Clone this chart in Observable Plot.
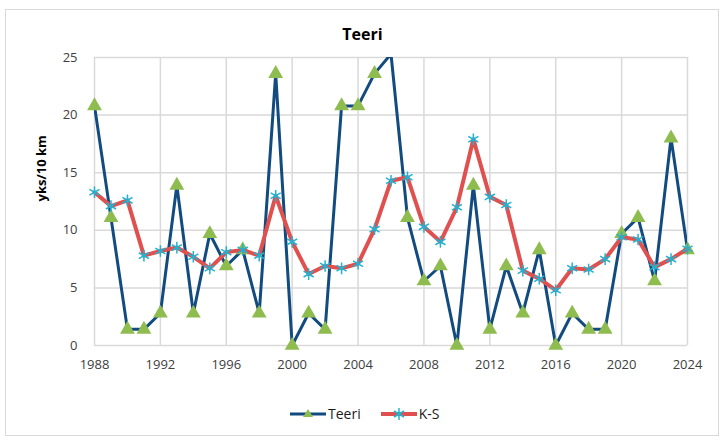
<!DOCTYPE html>
<html>
<head>
<meta charset="utf-8">
<script src="https://cdn.jsdelivr.net/npm/d3@7"></script>
<script src="https://cdn.jsdelivr.net/npm/@observablehq/plot@0.6"></script>
<style>
  body { margin: 0; background: #fff; font-family: "Open Sans", "Liberation Sans", sans-serif; }
  #wrap { position: relative; width: 725px; height: 440px; }
  #border { position: absolute; left: 5px; top: 9px; width: 714px; height: 427px; border: 1px solid #d9d9d9; box-sizing: border-box; }
  #title { position: absolute; left: 0; width: 725px; top: 23px; text-align: center; font-weight: bold; font-size: 16px; color: #000; }
  #legend { position: absolute; top: 404px; left: 290px; display: flex; align-items: center; font-size: 14px; color: #1a1a1a; }
  #legend .item { display: flex; align-items: center; margin-right: 20px; }
  #legend svg { margin-right: 2px; }
</style>
</head>
<body>
<div id="wrap">
  <div id="border"></div>
  <div id="chart"></div>
  <div id="title">Teeri</div>
  <div id="legend"></div>
</div>
<script>
const years = d3.range(1988, 2025);
const teeri = [20.8, 11.1, 1.4, 1.4, 2.8, 13.9, 2.8, 9.7, 6.9, 8.3, 2.8, 23.6, 0, 2.8, 1.4, 20.8, 20.8, 23.6, 25.3, 11.1, 5.6, 6.9, 0, 13.9, 1.4, 6.9, 2.8, 8.3, 0, 2.8, 1.4, 1.4, 9.7, 11.1, 5.6, 18.0, 8.3];
const ks = [13.3, 12.1, 12.6, 7.8, 8.2, 8.5, 7.7, 6.7, 8.1, 8.3, 7.8, 13.0, 9.0, 6.2, 6.9, 6.7, 7.1, 10.1, 14.3, 14.6, 10.3, 9.0, 12.0, 17.9, 12.9, 12.2, 6.5, 5.8, 4.8, 6.7, 6.6, 7.5, 9.4, 9.2, 6.8, 7.5, 8.4];
const xTicks = d3.range(1988, 2025, 4);
const yTicks = [0, 5, 10, 15, 20, 25];
const seriesNames = ["Teeri", "K-S"];

const teeriData = years.map((y, i) => ({year: y, value: teeri[i]}));
const ksData = years.map((y, i) => ({year: y, value: ks[i]}));
const yMax = 25;

const cTeeri = "#114b7f";
const cTri = "#8fbc4f";
const cKS = "#e0504f";
const cStar = "#1fb3d3";
const grid = "#d9d9d9";

const chart = Plot.plot({
  width: 725,
  height: 440,
  marginLeft: 94,
  marginRight: 38,
  marginTop: 57,
  marginBottom: 95,
  style: {fontFamily: "'Open Sans', 'Liberation Sans', sans-serif", fontSize: "13px", color: "#404040", background: "transparent"},
  x: {domain: [1988, 2024], ticks: xTicks, tickFormat: d => String(d), tickSize: 0, tickPadding: 14, label: null},
  y: {domain: [0, yMax], ticks: yTicks, tickSize: 0, tickPadding: 17, label: null},
  marks: [
    Plot.gridY(yTicks, {stroke: grid, strokeOpacity: 1, strokeWidth: 1.5}),
    Plot.gridX(xTicks, {stroke: grid, strokeOpacity: 1, strokeWidth: 1.5}),
    Plot.axisX({ticks: xTicks, tickFormat: d => String(d), tickSize: 0, tickPadding: 14, label: null, fontSize: 13, fill: "#404040"}),
    Plot.axisY({ticks: yTicks, tickSize: 0, tickPadding: 17, label: null, fontSize: 13, fill: "#404040"}),
    Plot.text(["yks/10 km"], {frameAnchor: "left", rotate: -90, dx: -53, fontWeight: "bold", fontSize: 13, fill: "#000"}),
    Plot.line(teeriData, {x: "year", y: "value", stroke: cTeeri, strokeWidth: 3, clip: true}),
    Plot.dot(teeriData.filter(d => d.value <= yMax), {x: "year", y: "value", symbol: "triangle", fill: cTri, r: 5.5, stroke: null}),
    Plot.line(ksData, {x: "year", y: "value", stroke: cKS, strokeWidth: 4}),
    Plot.dot(ksData, {x: "year", y: "value", symbol: "asterisk", stroke: cStar, strokeWidth: 1.5, r: 5.5})
  ]
});
document.getElementById("chart").appendChild(chart);

// legend
const legend = document.getElementById("legend");
seriesNames.forEach((name, i) => {
  const item = document.createElement("div");
  item.className = "item";
  const isT = i === 0;
  const line = isT ? cTeeri : cKS;
  const sw = isT ? 3 : 4;
  const marker = isT
    ? `<path d="M18,4 L23,12 L13,12 Z" fill="${cTri}"/>`
    : `<g stroke="${cStar}" stroke-width="1.5"><line x1="18" y1="3" x2="18" y2="15"/><line x1="13" y1="6" x2="23" y2="12"/><line x1="13" y1="12" x2="23" y2="6"/></g>`;
  item.innerHTML = `<svg width="36" height="18"><line x1="0" y1="9" x2="36" y2="9" stroke="${line}" stroke-width="${sw}"/>${marker}</svg><span>${name}</span>`;
  legend.appendChild(item);
});
</script>
</body>
</html>
